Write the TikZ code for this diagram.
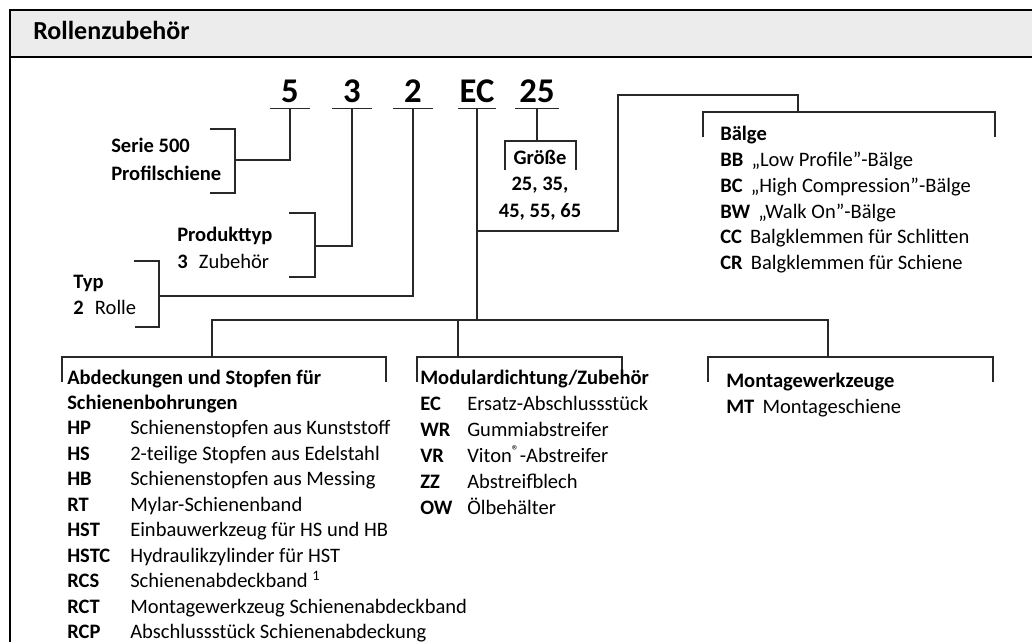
\documentclass[tikz,border=0pt]{standalone}
\usepackage{fontspec}
\setmainfont{Carlito}
\usetikzlibrary{positioning}
\definecolor{barfill}{RGB}{236,236,236}
\definecolor{linegray}{RGB}{40,40,40}

\tikzset{
  blk/.style={inner sep=0pt, anchor=base west, font=\fontsize{15.4}{#1}\selectfont},
  blk/.default=19.1,
  digit/.style={inner sep=0pt, anchor=base, text depth=3.75pt, minimum width=#1,
    font=\bfseries\fontsize{26}{30}\selectfont},
  digit/.default=30pt,
  brk/.style={line width=1.05pt, draw=linegray},
}
\newcommand{\cd}[1]{\textbf{#1}\hspace{0.4em}}

\begin{document}
\begin{tikzpicture}[x=0.75pt,y=0.75pt,yscale=-1,xscale=1]
\useasboundingbox (0,0) rectangle (1032,642);

%Frame and title bar
\fill[barfill] (10,10) rectangle (1032,57);
\draw[line width=1pt] (10,57) -- (1032,57);
\draw[line width=2.1pt] (10,642) -- (10,10) -- (1032,10);
\node[inner sep=0pt, anchor=base west, font=\bfseries\fontsize{19.5}{23}\selectfont] (title) at (33,40) {Rollenzubehör};

% Code digits
\node[digit] (d5) at (290,103) {5};
\node[digit=29pt] (d3) at (352,103) {3};
\node[digit] (d2) at (413,103) {2};
\node[digit=28pt] (dEC) at (477,103) {EC};
\node[digit=32pt] (d25) at (537,103) {25};
\foreach \d in {d5,d3,d2,dEC,d25}
  \draw[brk] (\d.south west) -- (\d.south east);

% Serie
\node[blk=21] (serie) at (111,152) {\begin{tabular}[t]{@{}l@{}}\textbf{Serie 500}\\\textbf{Profilschiene}\end{tabular}};
\draw[brk] (210,129) -| (235,193) -- (210,193);
\coordinate (serieC) at (235,160);
\draw[brk] (d5.south) |- (serieC);

% Produkttyp
\node[blk=20.3] (prod) at (177,241) {\begin{tabular}[t]{@{}l@{}}\textbf{Produkttyp}\\\textbf{3}\hspace{0.55em}Zubehör\end{tabular}};
\draw[brk] (289,213) -| (315,277) -- (289,277);
\coordinate (prodC) at (315,246);
\draw[brk] (d3.south) |- (prodC);

% Typ
\node[blk=19.8] (typ) at (73,288) {\begin{tabular}[t]{@{}l@{}}\textbf{Typ}\\\textbf{2}\hspace{0.55em}Rolle\end{tabular}};
\draw[brk] (134,261) -| (159,327) -- (135,327);
\coordinate (typC) at (159,296);
\draw[brk] (d2.south) |- (typC);

% Groesse
\node[blk=20, anchor=base] (groesse) at (540,164) {\bfseries\begin{tabular}[t]{@{}c@{}}Größe\\25, 35,\\45, 55, 65\end{tabular}};
\coordinate (groesseC) at (d25.south |- 0,141);
\draw[brk] (505,170) |- (576,141) -- (576,170);
\draw[brk] (d25.south) -- (groesseC);

% Baelge
\node[blk=19.3] (baelge) at (720,141) {\begin{tabular}[t]{@{}l@{}}
\textbf{Bälge}\\
\cd{BB}„Low Profile”-Bälge\\
\cd{BC}„High Compression”-Bälge\\
\cd{BW}„Walk On”-Bälge\\
\cd{CC}Balgklemmen für Schlitten\\
\cd{CR}Balgklemmen für Schiene
\end{tabular}};
\draw[brk] (703,137) |- (995,112) -- (995,137);
\coordinate (baelgeC) at (798,112);
\draw[brk] (dEC.south |- 0,231) -| (618,95) -| (baelgeC);

% Bus to lower groups
\coordinate (bus) at (dEC.south |- 0,320);
\coordinate (abdC) at (212,357);
\coordinate (modC) at (458,357);
\coordinate (montC) at (828,357);
\draw[brk] (dEC.south) -- (bus);
\draw[brk] (abdC) |- (bus) -| (montC);
\draw[brk] (modC) -- (modC |- bus);

% Abdeckungen
\draw[brk] (62,382) |- (386,357) -- (386,382);
\node[blk=19.1] (abd) at (67,384) {\begin{tabular}[t]{@{}p{47.25pt}@{}l@{}}
\multicolumn{2}{@{}l@{}}{\textbf{Abdeckungen und Stopfen für}}\\
\multicolumn{2}{@{}l@{}}{\textbf{Schienenbohrungen}}\\
\textbf{HP} & Schienenstopfen aus Kunststoff\\
\textbf{HS} & 2-teilige Stopfen aus Edelstahl\\
\textbf{HB} & Schienenstopfen aus Messing\\
\textbf{RT} & Mylar-Schienenband\\
\textbf{HST} & Einbauwerkzeug für HS und HB\\
\textbf{HSTC} & Hydraulikzylinder für HST\\
\textbf{RCS} & Schienenabdeckband \textsuperscript{1}\\
\textbf{RCT} & Montagewerkzeug Schienenabdeckband\\
\textbf{RCP} & Abschlussstück Schienenabdeckung
\end{tabular}};

% Modulardichtung
\draw[brk] (417,382) |- (622,357) -- (622,382);
\node[blk=19.5] (mod) at (420,384) {\begin{tabular}[t]{@{}p{35.25pt}@{}l@{}}
\multicolumn{2}{@{}l@{}}{\textbf{Modulardichtung/Zubehör}}\\
\textbf{EC} & Ersatz-Abschlussstück\\
\textbf{WR} & Gummiabstreifer\\
\textbf{VR} & Viton\textsuperscript{®}-Abstreifer\\
\textbf{ZZ} & Abstreifblech\\
\textbf{OW} & Ölbehälter
\end{tabular}};

% Montagewerkzeuge
\draw[brk] (708,382) |- (993,357) -- (993,382);
\node[blk=19.5] (mont) at (726,387) {\begin{tabular}[t]{@{}l@{}}
\textbf{Montagewerkzeuge}\\
\cd{MT}Montageschiene
\end{tabular}};

\end{tikzpicture}
\end{document}
